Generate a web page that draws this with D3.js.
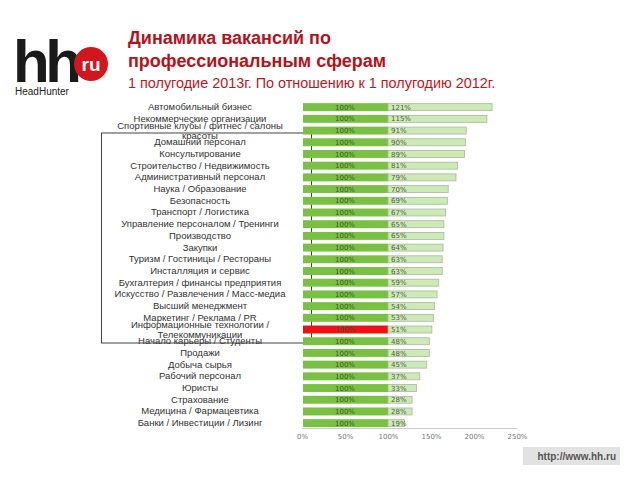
<!DOCTYPE html>
<html><head><meta charset="utf-8">
<script src="https://cdn.jsdelivr.net/npm/d3@7/dist/d3.min.js"></script>
<style>body{margin:0;background:#fff;}svg{display:block;}</style>
</head><body>
<script>
const categories = [
 ["Автомобильный бизнес"],
 ["Некоммерческие организации"],
 ["Спортивные клубы / фитнес / салоны","красоты"],
 ["Домашний персонал"],
 ["Консультирование"],
 ["Строительство / Недвижимость"],
 ["Административный персонал"],
 ["Наука / Образование"],
 ["Безопасность"],
 ["Транспорт / Логистика"],
 ["Управление персоналом / Тренинги"],
 ["Производство"],
 ["Закупки"],
 ["Туризм / Гостиницы / Рестораны"],
 ["Инсталляция и сервис"],
 ["Бухгалтерия / финансы предприятия"],
 ["Искусство / Развлечения / Масс-медиа"],
 ["Высший менеджмент"],
 ["Маркетинг / Реклама / PR"],
 ["Информационные технологии /","Телекоммуникации"],
 ["Начало карьеры / Студенты"],
 ["Продажи"],
 ["Добыча сырья"],
 ["Рабочий персонал"],
 ["Юристы"],
 ["Страхование"],
 ["Медицина / Фармацевтика"],
 ["Банки / Инвестиции / Лизинг"]
];
const baseValues = [100,100,100,100,100,100,100,100,100,100,100,100,100,100,100,100,100,100,100,100,100,100,100,100,100,100,100,100];
const growthValues = [121,115,91,90,89,81,79,70,69,67,65,65,64,63,63,59,57,54,53,51,48,48,45,37,33,28,28,19];
const highlightIndex = 19;
const tickValues = [0,50,100,150,200,250];

const svg = d3.select("body").append("svg").attr("width",640).attr("height",480);
const tf = "Liberation Sans, Arial, sans-serif";

// logo
svg.append("text").attr("x",13).attr("y",82).attr("font-family",tf)
  .attr("font-size",60).attr("font-weight","bold").attr("letter-spacing",-4.5).attr("fill","#1a1a1a").text("hh");
svg.append("text").attr("x",15).attr("y",95).attr("font-family",tf)
  .attr("font-size",10).attr("fill","#222").text("HeadHunter");
svg.append("circle").attr("cx",91).attr("cy",64).attr("r",17).attr("fill","#d2161e");
svg.append("text").attr("x",91).attr("y",71).attr("text-anchor","middle").attr("font-family",tf)
  .attr("font-size",19).attr("font-weight","bold").attr("fill","#fff").text("ru");

// titles
svg.append("text").attr("x",128).attr("y",44).attr("font-family",tf).attr("font-size",18).attr("font-weight","bold").attr("fill","#b5121b").text("Динамика вакансий по");
svg.append("text").attr("x",128).attr("y",67).attr("font-family",tf).attr("font-size",18).attr("font-weight","bold").attr("fill","#b5121b").text("профессиональным сферам");
svg.append("text").attr("x",128).attr("y",88).attr("font-family",tf).attr("font-size",14.4).attr("fill","#c0151b").text("1 полугодие 2013г. По отношению к 1 полугодию 2012г.");

const x = d3.scaleLinear().domain([0,250]).range([302,517]);
const y = d3.scaleBand().domain(d3.range(categories.length)).range([101.3,429]).paddingInner(0.32).paddingOuter(0.16);

// overlay box
svg.append("rect").attr("x",101.5).attr("y",133).attr("width",210).attr("height",210)
  .attr("fill","none").attr("stroke","#444").attr("stroke-width",1);

// labels
const lab = svg.append("g").attr("font-family",tf).attr("font-size",9.5).attr("fill","#333").attr("text-anchor","middle");
categories.forEach((c,i)=>{
  const cy = y(i)+y.bandwidth()/2;
  if(c.length===1){
    lab.append("text").attr("x",200).attr("y",cy+3).text(c[0]);
  } else {
    lab.append("text").attr("x",200).attr("y",cy-1.5).text(c[0]);
    lab.append("text").attr("x",200).attr("y",cy+8.5).text(c[1]);
  }
});

// bars
const g = svg.append("g");
growthValues.forEach((v,i)=>{
  g.append("rect").attr("x",x(0)+1).attr("y",y(i)).attr("width",x(baseValues[i])-x(0)-1).attr("height",y.bandwidth())
    .attr("fill", i===highlightIndex ? "#ee1111" : "#7ac143");
  g.append("rect").attr("x",x(baseValues[i])).attr("y",y(i)+0.5).attr("width",x(baseValues[i]+v)-x(baseValues[i])).attr("height",y.bandwidth()-1)
    .attr("fill","#cdeab6").attr("stroke","#a8b8a0").attr("stroke-width",0.8);
  g.append("text").attr("x",(x(0)+x(baseValues[i]))/2).attr("y",y(i)+y.bandwidth()/2+2.6).attr("text-anchor","middle")
    .attr("font-family","DejaVu Sans, sans-serif").attr("font-size",7).attr("fill","#3d5a28").text(baseValues[i]+"%");
  g.append("text").attr("x",x(baseValues[i])+3).attr("y",y(i)+y.bandwidth()/2+2.6)
    .attr("font-family","DejaVu Sans, sans-serif").attr("font-size",7).attr("fill","#4d6040").text(v+"%");
});

// axis
const ax = svg.append("g").attr("transform","translate(0,428)")
  .call(d3.axisBottom(x).tickValues(tickValues).tickSize(0).tickPadding(6).tickFormat(d=>d+"%"));
ax.select(".domain").attr("stroke","#ccc");
ax.selectAll("text").attr("font-family","DejaVu Sans, sans-serif").attr("font-size",7).attr("fill","#777");

// footer
svg.append("rect").attr("x",523).attr("y",447).attr("width",97).attr("height",18).attr("fill","#e2e2e2");
svg.append("text").attr("x",616).attr("y",460).attr("text-anchor","end").attr("font-family",tf).attr("font-size",10)
  .attr("font-weight","bold").attr("fill","#555").text("http://www.hh.ru");
</script>
</body></html>
